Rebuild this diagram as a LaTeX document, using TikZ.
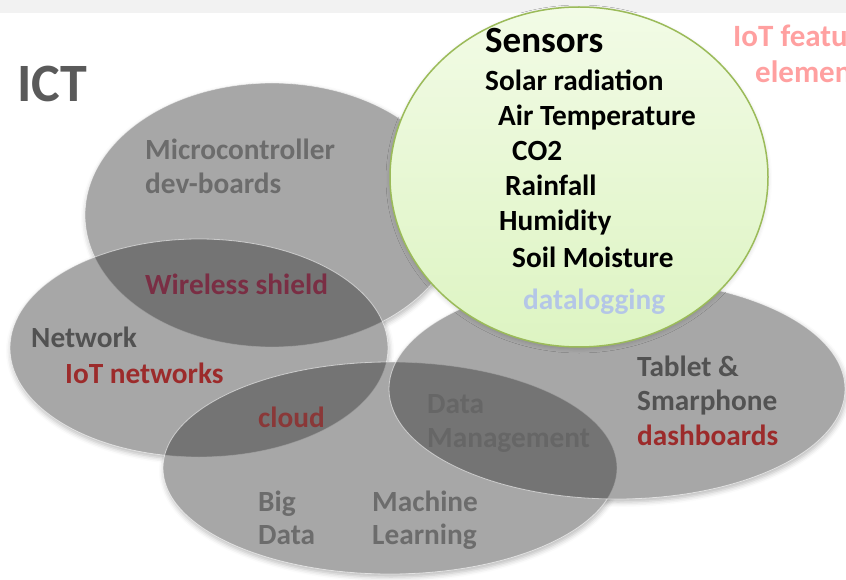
\documentclass[tikz,border=0pt]{standalone}
\usepackage{fontspec}
\usetikzlibrary{shadows.blur}
\setmainfont{Carlito}
\definecolor{topband}{HTML}{F2F2F2}
\definecolor{ictgray}{HTML}{5A5A5A}
\definecolor{darktxt}{HTML}{525252}
\definecolor{softtxt}{HTML}{6C6C6C}
\definecolor{dimtxt}{HTML}{666666}
\definecolor{wine}{HTML}{7A2E44}
\definecolor{brick}{HTML}{9C2B2B}
\definecolor{cloudred}{HTML}{8A3838}
\definecolor{logblue}{HTML}{B4C6E7}
\definecolor{pinktxt}{HTML}{FFA0A0}
\definecolor{sensedge}{HTML}{9BBB59}
\definecolor{senstop}{HTML}{F2FBE6}
\definecolor{sensbot}{HTML}{DDF4C2}
\begin{document}
\begin{tikzpicture}[x=1pt,y=-1pt,
  blob/.style={fill=black!82, fill opacity=0.42, draw=white, draw opacity=0.55, line width=0.8pt},
  soft/.style={blur shadow={shadow xshift=1pt, shadow yshift=-3pt, shadow blur radius=5pt, shadow opacity=28}},
  faint/.style={blur shadow={shadow xshift=0pt, shadow yshift=-2pt, shadow blur radius=4pt, shadow opacity=16}},
  lbl/.style={anchor=base west, inner sep=0pt},
  big/.style={font=\fontsize{29.3}{34}\bfseries},
  list/.style={font=\fontsize{29.3}{34}\bfseries}]
\useasboundingbox (0,0) rectangle (846,580);
\clip (0,0) rectangle (846,580);
% light band along the top edge
\fill[topband] (0,0) rectangle (846,13);

% soft shadows of the fields, masked inside by a white base
\path[soft] (272,215) ellipse [x radius=187pt, y radius=132pt];
\path[soft] (199,348) ellipse [x radius=189pt, y radius=109pt];
\path[soft] (390,468) ellipse [x radius=227pt, y radius=106pt];
\path[soft] (617,389) ellipse [x radius=228pt, y radius=110pt];
\fill[white] (272,215) ellipse [x radius=187pt, y radius=132pt];
\fill[white] (199,348) ellipse [x radius=189pt, y radius=109pt];
\fill[white] (390,468) ellipse [x radius=227pt, y radius=106pt];
\fill[white] (617,389) ellipse [x radius=228pt, y radius=110pt];

% overlapping technology fields
\path[blob] (272,215) ellipse [x radius=187pt, y radius=132pt];
\path[blob] (199,348) ellipse [x radius=189pt, y radius=109pt];
\path[blob] (390,468) ellipse [x radius=227pt, y radius=106pt];
\path[blob] (617,389) ellipse [x radius=228pt, y radius=110pt];

% sensors bubble
\path[faint, draw=sensedge, line width=1.5pt, top color=senstop, bottom color=sensbot]
  (579,177) ellipse [x radius=189pt, y radius=170pt];

% headings
\node[lbl, text=ictgray, font=\fontsize{54}{60}\bfseries] (ict) at (17,102) {ICT};
\node[lbl, text=pinktxt, font=\fontsize{31}{36}\bfseries] (feat) at (733,47) {IoT features};
\node[lbl, text=pinktxt, font=\fontsize{31}{36}\bfseries] (elem) at (755,83) {elements};

% sensors list
\node[lbl, font=\fontsize{37}{42}\bfseries] (sens) at (485,53) {Sensors};
\node[lbl, list] (solar) at (485,91) {Solar radiation};
\node[lbl, list] (air) at (498,126) {Air Temperature};
\node[lbl, list] (co2) at (512,161) {CO2};
\node[lbl, list] (rain) at (505,196) {Rainfall};
\node[lbl, list] (hum) at (499,231) {Humidity};
\node[lbl, list] (soil) at (512,267) {Soil Moisture};
\node[lbl, list, text=logblue] (log) at (523,309) {datalogging};

% field labels
\node[lbl, big, text=softtxt] (mc1) at (145,160) {Microcontroller};
\node[lbl, big, text=softtxt] (mc2) at (145,194) {dev-boards};
\node[lbl, big, text=wine] (wl) at (145,294) {Wireless shield};
\node[lbl, big, text=darktxt] (net) at (31,347) {Network};
\node[lbl, big, text=brick] (iotn) at (65,383) {IoT networks};
\node[lbl, big, text=cloudred] (cld) at (258,427) {cloud};
\node[lbl, big, text=softtxt] (bd1) at (258,511) {Big};
\node[lbl, big, text=softtxt] (bd2) at (258,544) {Data};
\node[lbl, big, text=softtxt] (ml1) at (372,511) {Machine};
\node[lbl, big, text=softtxt] (ml2) at (372,544) {Learning};
\node[lbl, big, text=dimtxt] (dm1) at (427,413) {Data};
\node[lbl, big, text=dimtxt] (dm2) at (427,447) {Management};
\node[lbl, big, text=darktxt] (tab1) at (637,376) {Tablet \&};
\node[lbl, big, text=darktxt] (tab2) at (637,410) {Smarphone};
\node[lbl, big, text=brick] (dash) at (637,445) {dashboards};
\end{tikzpicture}
\end{document}
